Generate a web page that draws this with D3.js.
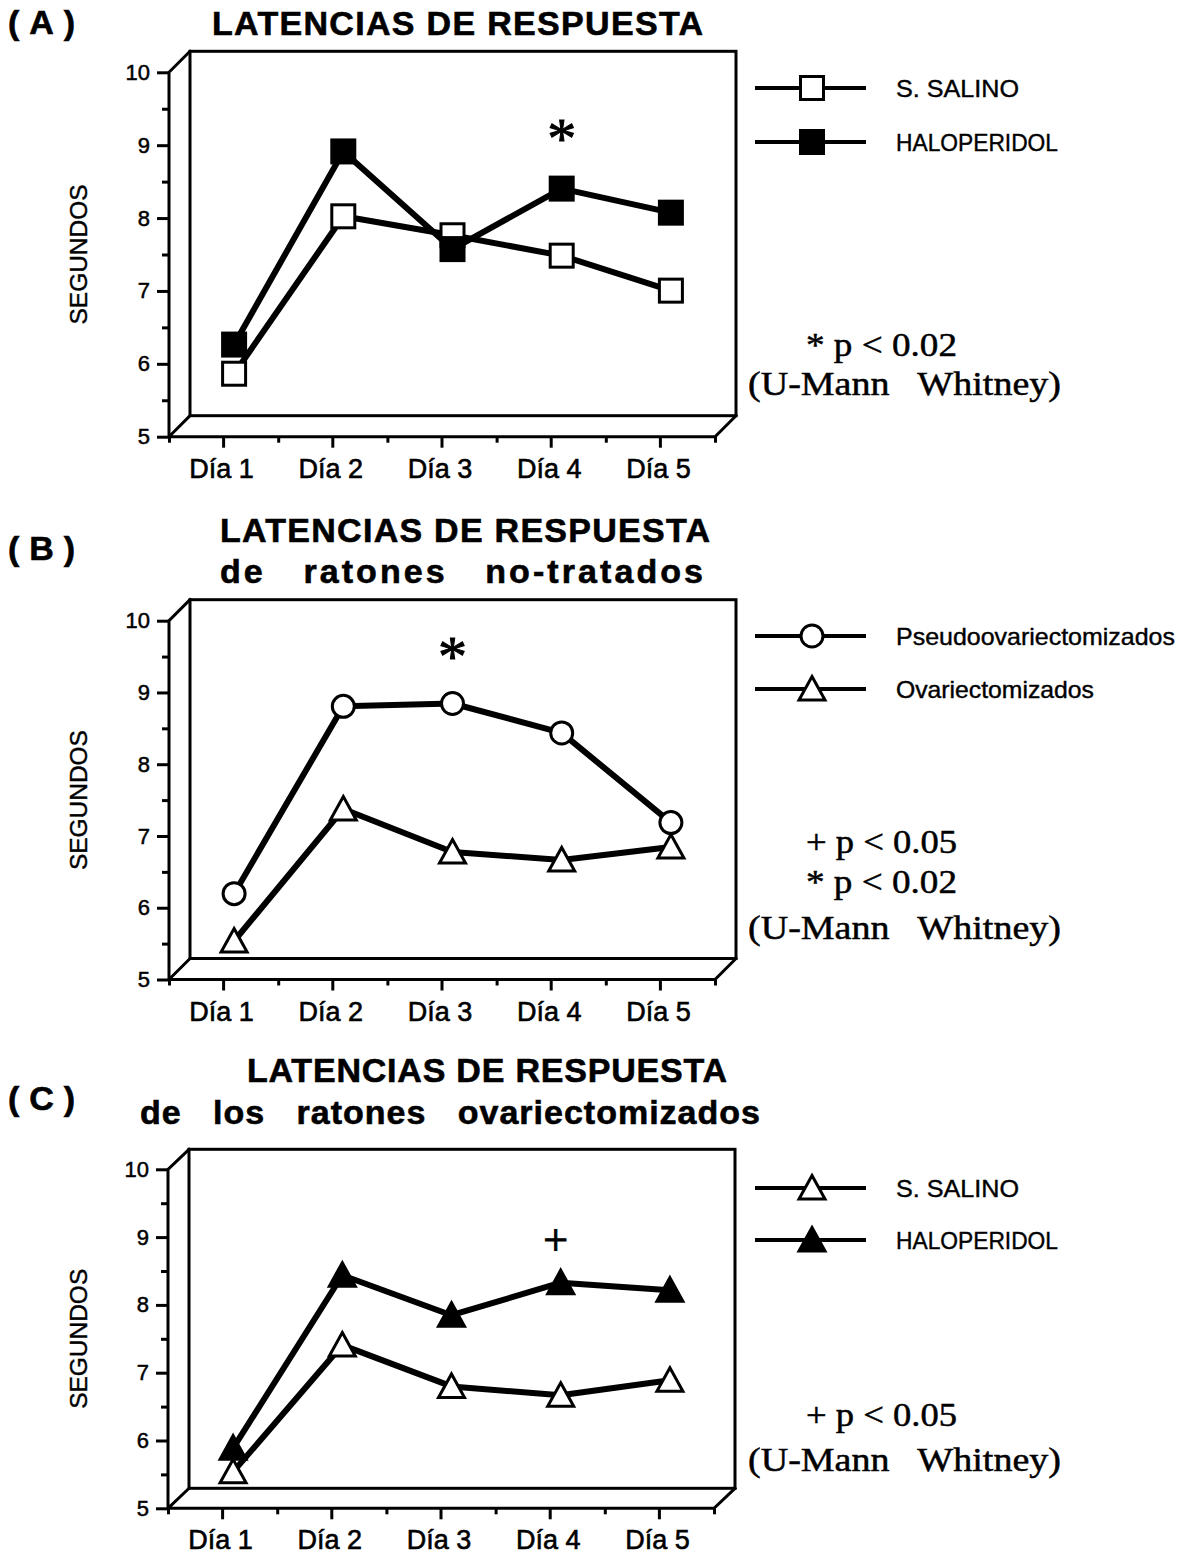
<!DOCTYPE html>
<html>
<head>
<meta charset="utf-8">
<script src="https://cdn.jsdelivr.net/npm/d3@7"></script>
<style>
  body { margin: 0; background: #fff; }
  svg { display: block; }
  text { white-space: pre; }
</style>
</head>
<body>
<svg id="chart" width="1184" height="1562"></svg>
<script>
// ---- data ----
const days = ["Día 1", "Día 2", "Día 3", "Día 4", "Día 5"];
const yTicks = [5, 6, 7, 8, 9, 10];
const yMinorTicks = [5.5, 6.5, 7.5, 8.5, 9.5];

// (A) latencias de respuesta
const salinoA = [5.72, 7.88, 7.62, 7.34, 6.86];
const haloperidolA = [6.12, 8.77, 7.43, 8.26, 7.93];
// (B) ratones no-tratados
const pseudoB = [6.05, 8.66, 8.70, 8.29, 7.04];
const ovariectB = [5.39, 7.23, 6.63, 6.52, 6.70];
// (C) ratones ovariectomizados
const salinoC = [5.39, 7.26, 6.65, 6.52, 6.74];
const haloperidolC = [5.74, 8.29, 7.70, 8.18, 8.07];

// significance marks: [day, value, symbol]
const signifA = ["Día 4", 9.06, "*"];
const signifB = ["Día 3", 9.47, "*"];
const signifC = ["Día 4", 8.80, "+"];

const statsA = ["* p < 0.02", "(U-Mann   Whitney)"];
const statsB = ["+ p < 0.05", "* p < 0.02", "(U-Mann   Whitney)"];
const statsC = ["+ p < 0.05", "(U-Mann   Whitney)"];

// ---- drawing ----
const INK = "#000";
const SANS = "'Liberation Sans', Arial, Helvetica, sans-serif";
const SERIF = "'Liberation Serif', 'Times New Roman', serif";
const svg = d3.select("#chart");

function drawMarker(sel, shape, filled) {
  let p;
  if (shape === "square") {
    p = sel.append("rect").attr("x", -11.5).attr("y", -11.5).attr("width", 23).attr("height", 23);
  } else if (shape === "circle") {
    p = sel.append("path").attr("d", d3.symbol().type(d3.symbolCircle).size(Math.PI * 11 * 11)());
  } else {
    p = sel.append("path").attr("d", "M0,-12.5L13,11L-13,11Z");
  }
  p.attr("fill", filled ? INK : "#fff")
   .attr("stroke", INK)
   .attr("stroke-width", 3)
   .attr("stroke-linejoin", "miter");
}

// slightly heavier strokes on type, like the printed figure
function ink(sel, w) {
  return sel.attr("fill", INK).attr("stroke", INK).attr("stroke-width", w);
}

function panel(cfg) {
  const g = svg.append("g");
  const { x0, x1, dx, dy } = cfg;
  const x = d3.scaleBand().domain(days).range([x0, x1]);
  const xEdge = d3.scaleLinear().domain([0, days.length]).range([x0, x1]);
  const y = d3.scaleLinear().domain([5, 10]).range([cfg.y5, cfg.y10]);

  // box: back wall, floor and left wall
  const frame = g.append("g")
    .attr("fill", "none").attr("stroke", INK).attr("stroke-width", 3)
    .attr("stroke-linecap", "square").attr("stroke-linejoin", "miter");
  frame.append("rect")
    .attr("x", x0 + dx).attr("y", y(10) - dy)
    .attr("width", x1 - x0).attr("height", y(5) - y(10));
  frame.append("path").attr("d",
    `M${x0 + dx},${y(10) - dy}L${x0},${y(10)}L${x0},${y(5)}L${x1},${y(5)}L${x1 + dx},${y(5) - dy}` +
    `M${x0},${y(5)}L${x0 + dx},${y(5) - dy}`);

  // y axis
  const yAx = g.append("g").attr("transform", `translate(${x0},0)`)
    .call(d3.axisLeft(y).tickValues(yTicks).tickSize(12).tickPadding(7).tickFormat(d3.format("d")));
  g.append("g").attr("transform", `translate(${x0},0)`)
    .call(d3.axisLeft(y).tickValues(yMinorTicks).tickSize(7).tickFormat(""));
  // x axis
  const xAx = g.append("g").attr("transform", `translate(0,${y(5)})`)
    .call(d3.axisBottom(x).tickSize(11).tickPadding(11));
  g.append("g").attr("transform", `translate(0,${y(5)})`)
    .call(d3.axisBottom(xEdge).tickValues(d3.range(0, days.length + 1)).tickSize(6).tickFormat(""));
  g.selectAll(".domain").remove();
  g.selectAll(".tick line").attr("stroke", INK).attr("stroke-width", 3);
  g.selectAll(".tick text").attr("font-family", SANS);
  ink(yAx.selectAll(".tick text"), 0.5).attr("font-size", 22);
  ink(xAx.selectAll(".tick text"), 0.6).attr("font-size", 27).attr("dx", -2);

  // y label
  ink(g.append("text"), 0.4)
    .attr("transform", `translate(87,${(y(5) + y(10)) / 2}) rotate(-90)`)
    .attr("text-anchor", "middle")
    .attr("font-family", SANS).attr("font-size", 23)
    .attr("textLength", 140).attr("lengthAdjust", "spacingAndGlyphs")
    .text("SEGUNDOS");

  // series, drawn at mid-depth of the box
  const px = d => x(d) + x.bandwidth() / 2 + dx / 2;
  const py = v => y(v) - dy / 2;
  cfg.series.forEach(s => {
    const pts = days.map((d, i) => [px(d), py(s.values[i])]);
    g.append("path")
      .attr("d", d3.line()(pts))
      .attr("fill", "none").attr("stroke", INK).attr("stroke-width", 6)
      .attr("stroke-linejoin", "round");
    pts.forEach(p => drawMarker(g.append("g").attr("transform", `translate(${p[0]},${p[1]})`), s.shape, s.filled));
  });

  // significance mark
  const [sd, sv, sym] = cfg.signif;
  ink(g.append("text"), 1)
    .attr("x", px(sd) + (sym === "+" ? -5 : 0))
    .attr("y", py(sv) + (sym === "*" ? 28 : 14))
    .attr("text-anchor", "middle")
    .attr("font-family", SERIF)
    .attr("font-size", sym === "*" ? 58 : 44)
    .text(sym);

  // legend
  cfg.series.forEach((s, i) => {
    const ly = cfg.legendY[i];
    g.append("line").attr("x1", 755).attr("x2", 866).attr("y1", ly).attr("y2", ly)
      .attr("stroke", INK).attr("stroke-width", 4);
    drawMarker(g.append("g").attr("transform", `translate(812,${ly})`), s.shape, s.filled);
    ink(g.append("text"), 0.4).attr("x", 896).attr("y", ly + 9)
      .attr("font-family", SANS).attr("font-size", 24)
      .attr("textLength", s.labelWidth).attr("lengthAdjust", "spacingAndGlyphs")
      .text(s.name);
  });

  // statistics note
  cfg.stats.forEach((t, i) => {
    const wide = t.startsWith("(");
    ink(g.append("text"), 0.5)
      .attr("x", wide ? 748 : 806).attr("y", cfg.statsY[i])
      .attr("font-family", SERIF).attr("font-size", 34)
      .attr("textLength", wide ? 313 : 151).attr("lengthAdjust", "spacingAndGlyphs")
      .text(t);
  });

  // headings
  ink(g.append("text"), 0.6).attr("x", 8).attr("y", cfg.tagY)
    .attr("font-family", SANS).attr("font-weight", "bold").attr("font-size", 34)
    .attr("textLength", 67).attr("lengthAdjust", "spacing")
    .text(cfg.tag);
  cfg.titles.forEach(t => {
    ink(g.append("text"), 0.6).attr("x", t.x).attr("y", t.y)
      .attr("font-family", SANS).attr("font-weight", "bold").attr("font-size", 34)
      .attr("textLength", t.w).attr("lengthAdjust", "spacing")
      .text(t.text);
  });
}

panel({
  x0: 169, x1: 715, dx: 21, dy: 21, y10: 72.3, y5: 436.7,
  series: [
    { name: "S. SALINO", values: salinoA, shape: "square", filled: false, labelWidth: 123 },
    { name: "HALOPERIDOL", values: haloperidolA, shape: "square", filled: true, labelWidth: 162 }
  ],
  legendY: [88, 142],
  signif: signifA,
  stats: statsA, statsY: [356, 395],
  tag: "(A)", tagY: 34,
  titles: [{ text: "LATENCIAS DE RESPUESTA", x: 212, y: 35, w: 491 }]
});

panel({
  x0: 169, x1: 715, dx: 21, dy: 21, y10: 620.7, y5: 979.5,
  series: [
    { name: "Pseudoovariectomizados", values: pseudoB, shape: "circle", filled: false, labelWidth: 279 },
    { name: "Ovariectomizados", values: ovariectB, shape: "triangle", filled: false, labelWidth: 198 }
  ],
  legendY: [636, 689],
  signif: signifB,
  stats: statsB, statsY: [853, 893, 939],
  tag: "(B)", tagY: 560,
  titles: [
    { text: "LATENCIAS DE RESPUESTA", x: 220, y: 542, w: 490 },
    { text: "de   ratones   no-tratados", x: 220, y: 583, w: 483 }
  ]
});

panel({
  x0: 168, x1: 714, dx: 21, dy: 20, y10: 1169.3, y5: 1508.3,
  series: [
    { name: "S. SALINO", values: salinoC, shape: "triangle", filled: false, labelWidth: 123 },
    { name: "HALOPERIDOL", values: haloperidolC, shape: "triangle", filled: true, labelWidth: 162 }
  ],
  legendY: [1188, 1240],
  signif: signifC,
  stats: statsC, statsY: [1426, 1471],
  tag: "(C)", tagY: 1110,
  titles: [
    { text: "LATENCIAS DE RESPUESTA", x: 247, y: 1082, w: 480 },
    { text: "de   los   ratones   ovariectomizados", x: 140, y: 1124, w: 620 }
  ]
});
</script>
</body>
</html>
